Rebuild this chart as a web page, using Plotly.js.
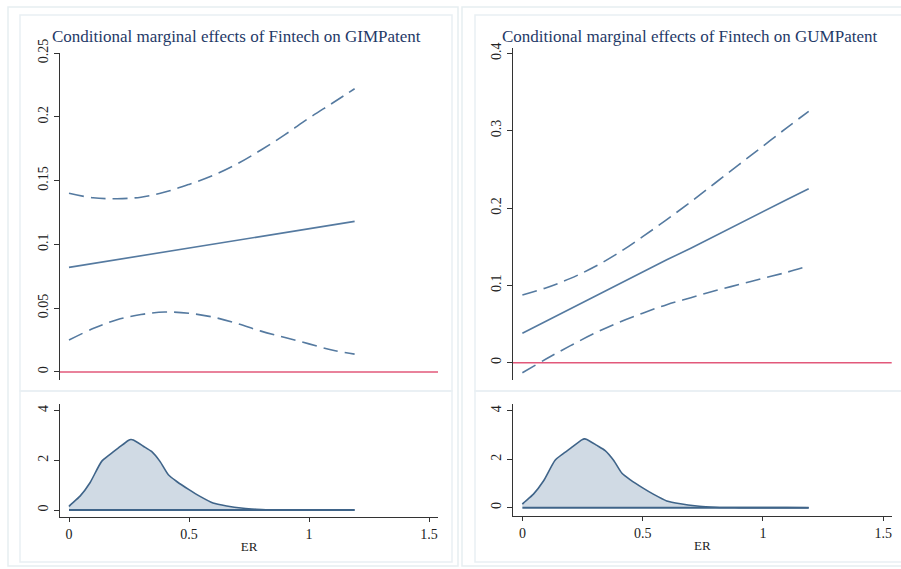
<!DOCTYPE html>
<html>
<head>
<meta charset="utf-8">
<script src="https://cdn.plot.ly/plotly-3.0.1.min.js"></script>
<style>
html,body{margin:0;padding:0;background:#fff;}
#chart{width:901px;height:569px;}
</style>
</head>
<body>
<div id="chart"></div>
<script>
// ---- Data ----
const erGrid = [0, 0.1, 0.2, 0.3, 0.4, 0.5, 0.6, 0.7, 0.8, 0.9, 1.0, 1.1, 1.19];

// Left: Fintech on GIMPatent
const gimEffect = [0.082, 0.085, 0.088, 0.091, 0.094, 0.097, 0.100, 0.103, 0.106, 0.109, 0.112, 0.115, 0.118];
const gimUpper  = [0.140, 0.1365, 0.1358, 0.137, 0.141, 0.147, 0.154, 0.163, 0.174, 0.186, 0.199, 0.211, 0.222];
const gimLower  = [0.025, 0.034, 0.041, 0.045, 0.047, 0.046, 0.043, 0.038, 0.032, 0.027, 0.022, 0.017, 0.014];

// Right: Fintech on GUMPatent
const gumEffect = [0.038, 0.054, 0.070, 0.085, 0.101, 0.117, 0.133, 0.148, 0.164, 0.180, 0.196, 0.211, 0.225];
const gumUpper  = [0.0875, 0.097, 0.109, 0.124, 0.142, 0.163, 0.185, 0.208, 0.232, 0.256, 0.280, 0.304, 0.325];
const gumLower  = [-0.013, 0.005, 0.022, 0.038, 0.052, 0.064, 0.075, 0.084, 0.093, 0.101, 0.109, 0.117, 0.125];

// Kernel density of ER
const densX = [0, 0.005, 0.046, 0.0875, 0.136, 0.171, 0.206, 0.247, 0.258, 0.268, 0.31, 0.344, 0.379, 0.414, 0.449, 0.5, 0.546, 0.6, 0.657, 0.726, 0.78, 0.82, 0.9, 1.0, 1.1, 1.19];
const densY = [0.14, 0.2, 0.56, 1.1, 1.96, 2.24, 2.5, 2.8, 2.84, 2.82, 2.57, 2.36, 1.96, 1.42, 1.15, 0.82, 0.55, 0.28, 0.16, 0.07, 0.03, 0.01, 0.005, 0.003, 0.002, 0.001];

const topTickVals = {left: [0, 0.05, 0.1, 0.15, 0.2, 0.25], right: [0, 0.1, 0.2, 0.3, 0.4]};
const topTickText = {left: ["0", "0.05", "0.1", "0.15", "0.2", "0.25"], right: ["0", "0.1", "0.2", "0.3", "0.4"]};
const densTickVals = [0, 2, 4];
const xTickVals = [0, 0.5, 1, 1.5];
const xTickText = ["0", "0.5", "1", "1.5"];
const titles = ["Conditional marginal effects of Fintech on GIMPatent", "Conditional marginal effects of Fintech on GUMPatent"];
const xTitle = "ER";

// ---- Styles ----
const lineBlue = "#557aa0";
const densLine = "#3f6489";
const densFill = "rgba(200,211,223,0.85)";
const red = "#e2587a";
const serif = "Liberation Serif, Times New Roman, serif";
const tickFont = {family: serif, size: 14, color: "#222"};

function effTraces(xa, ya, eff, up, lo) {
  return [
    {x: erGrid, y: up, xaxis: xa, yaxis: ya, mode: "lines", line: {color: lineBlue, width: 1.6, dash: "15px,7px", shape: "spline", smoothing: 1}, hoverinfo: "skip"},
    {x: erGrid, y: lo, xaxis: xa, yaxis: ya, mode: "lines", line: {color: lineBlue, width: 1.6, dash: "15px,7px", shape: "spline", smoothing: 1}, hoverinfo: "skip"},
    {x: erGrid, y: eff, xaxis: xa, yaxis: ya, mode: "lines", line: {color: lineBlue, width: 1.6}, hoverinfo: "skip"}
  ];
}
function densTraces(xa, ya) {
  const baseX = [densX[0], densX[densX.length - 1]];
  return [
    {x: densX, y: densY, xaxis: xa, yaxis: ya, mode: "lines", fill: "tozeroy", fillcolor: densFill, line: {color: densLine, width: 1.6, shape: "spline", smoothing: 0.6}, hoverinfo: "skip"},
    {x: baseX, y: [0, 0], xaxis: xa, yaxis: ya, mode: "lines", line: {color: densLine, width: 2}, hoverinfo: "skip"}
  ];
}

const data = [].concat(
  effTraces("x", "y", gimEffect, gimUpper, gimLower),
  densTraces("x2", "y2"),
  effTraces("x3", "y3", gumEffect, gumUpper, gumLower),
  densTraces("x4", "y4")
);

const W = 901, H = 569;
const px = v => v / W;
const py = v => 1 - v / H;

const yBase = {showline: true, linecolor: "#333", linewidth: 1, ticks: "outside", ticklen: 5, tickcolor: "#333", tickangle: -90, tickfont: tickFont, showgrid: false, zeroline: false, fixedrange: true};
const xTop = {showline: false, showticklabels: false, ticks: "", showgrid: false, zeroline: false};
const xBot = {showline: true, linecolor: "#333", linewidth: 1, ticks: "outside", ticklen: 4, tickcolor: "#333", tickfont: tickFont, showgrid: false, zeroline: false,
  tickvals: xTickVals, ticktext: xTickText, title: {text: xTitle, font: {family: serif, size: 13, color: "#222"}, standoff: 1}};

const layout = {
  width: W, height: H,
  margin: {l: 0, r: 0, t: 0, b: 0},
  paper_bgcolor: "#ffffff",
  plot_bgcolor: "rgba(0,0,0,0)",
  showlegend: false,
  xaxis:  Object.assign({}, xTop, {domain: [px(60), px(438)], range: [-0.0375, 1.5375], anchor: "y"}),
  yaxis:  Object.assign({}, yBase, {domain: [py(380), py(53)], range: [-0.0063, 0.25], anchor: "x", tickvals: topTickVals.left, ticktext: topTickText.left}),
  xaxis2: Object.assign({}, xBot, {domain: [px(60), px(438)], range: [-0.0375, 1.5375], anchor: "y2"}),
  yaxis2: Object.assign({}, yBase, {domain: [py(517), py(404)], range: [-0.28, 4.27], anchor: "x2", tickvals: densTickVals}),
  xaxis3: Object.assign({}, xTop, {domain: [px(513), px(891.7)], range: [-0.039, 1.535], anchor: "y3"}),
  yaxis3: Object.assign({}, yBase, {domain: [py(380), py(48.3)], range: [-0.0224, 0.4065], anchor: "x3", tickvals: topTickVals.right, ticktext: topTickText.right}),
  xaxis4: Object.assign({}, xBot, {domain: [px(513), px(891.7)], range: [-0.039, 1.535], anchor: "y4"}),
  yaxis4: Object.assign({}, yBase, {domain: [py(515.7), py(404)], range: [-0.33, 4.28], anchor: "x4", tickvals: densTickVals}),
  shapes: [
    // zero reference lines
    {type: "line", xref: "x domain", yref: "y", x0: 0, x1: 1, y0: 0, y1: 0, line: {color: red, width: 1.6}},
    {type: "line", xref: "x3 domain", yref: "y3", x0: 0, x1: 1, y0: 0, y1: 0, line: {color: red, width: 1.6}},
    // faint panel frames
    {type: "rect", xref: "paper", yref: "paper", x0: px(8), x1: px(458), y0: py(566), y1: py(7), line: {color: "#e6eef1", width: 1.5}, layer: "below"},
    {type: "rect", xref: "paper", yref: "paper", x0: px(20), x1: px(452), y0: py(391), y1: py(15), line: {color: "#e9f0f3", width: 1.5}, layer: "below"},
    {type: "rect", xref: "paper", yref: "paper", x0: px(20), x1: px(452), y0: py(562), y1: py(391), line: {color: "#e9f0f3", width: 1.5}, layer: "below"},
    {type: "rect", xref: "paper", yref: "paper", x0: px(462), x1: px(912), y0: py(566), y1: py(7), line: {color: "#e6eef1", width: 1.5}, layer: "below"},
    {type: "rect", xref: "paper", yref: "paper", x0: px(475), x1: px(905), y0: py(391), y1: py(15), line: {color: "#e9f0f3", width: 1.5}, layer: "below"},
    {type: "rect", xref: "paper", yref: "paper", x0: px(475), x1: px(905), y0: py(562), y1: py(391), line: {color: "#e9f0f3", width: 1.5}, layer: "below"}
  ],
  annotations: [
    {text: titles[0], xref: "paper", yref: "paper", x: px(236), y: py(37), xanchor: "center", yanchor: "middle", showarrow: false, font: {family: serif, size: 17, color: "#1f3a68"}},
    {text: titles[1], xref: "paper", yref: "paper", x: px(689), y: py(37), xanchor: "center", yanchor: "middle", showarrow: false, font: {family: serif, size: 17, color: "#1f3a68"}}
  ]
};

Plotly.newPlot("chart", data, layout, {displayModeBar: false, staticPlot: true});
</script>
</body>
</html>
